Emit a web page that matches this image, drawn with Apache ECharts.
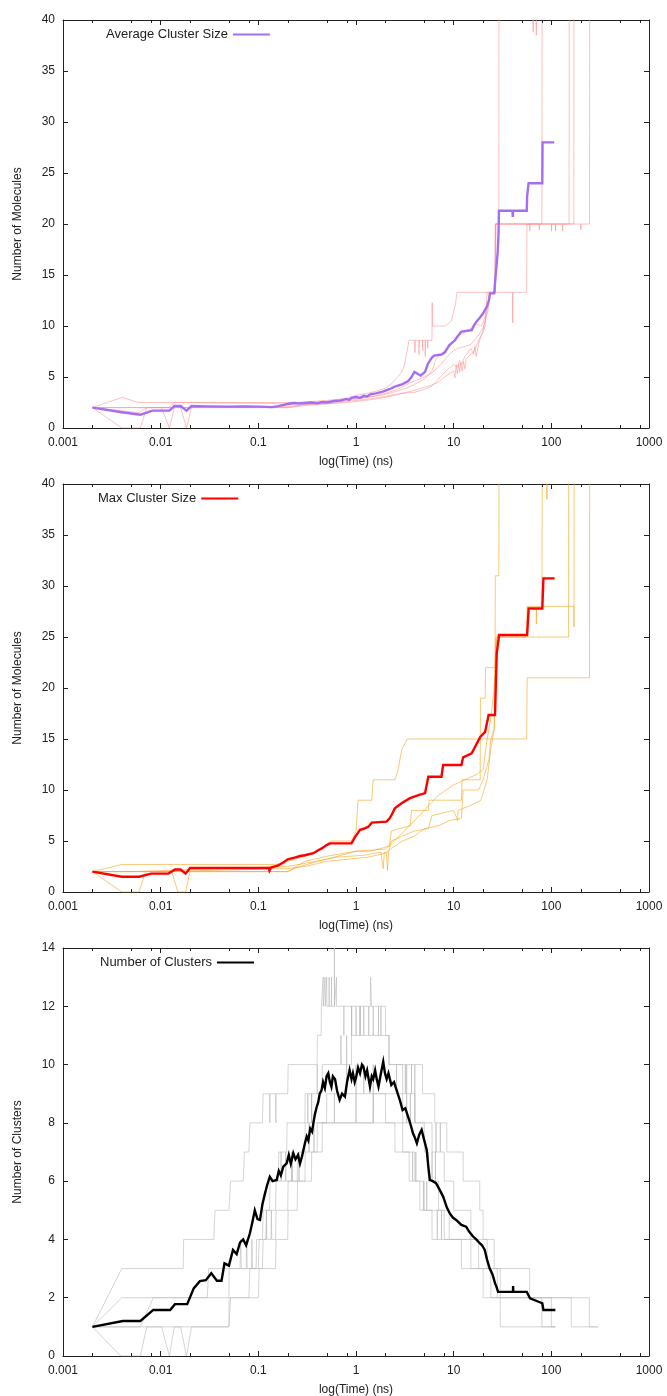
<!DOCTYPE html>
<html><head><meta charset="utf-8">
<script src="https://cdn.jsdelivr.net/npm/echarts@6/dist/echarts.min.js"></script>
<style>html,body{margin:0;padding:0;background:#fff}#c{width:667px;height:1396px}</style>
</head><body><div id="c"></div>
<script>
// ---------- tick labels ----------
const xTickLabels = ['0.001','0.01','0.1','1','10','100','1000'];
const minorTicks = [0.002,0.005,0.008,0.02,0.05,0.08,0.2,0.5,0.8,2,5,8,20,50,80,200,500,800];

// ---------- panel 1 : average cluster size ----------
const avgClusterSize = [[0.002,2.0],[0.004,1.55],[0.0062,1.3],[0.0072,1.5],[0.0082,1.7],[0.0123,1.7],[0.0138,2.15],[0.016,2.15],[0.0184,1.7],[0.0207,2.15],[0.03,2.12],[0.05,2.1],[0.07,2.12],[0.1,2.1],[0.138,2.05],[0.16,2.15],[0.2,2.35],[0.23,2.45],[0.26,2.4],[0.3,2.45],[0.35,2.5],[0.4,2.42],[0.45,2.55],[0.5,2.5],[0.6,2.65],[0.7,2.7],[0.8,2.85],[0.85,2.75],[0.9,2.95],[1.0,3.05],[1.1,2.95],[1.2,3.15],[1.3,3.1],[1.4,3.3],[1.6,3.4],[1.88,3.56],[2.2,3.8],[2.5,4.05],[3.0,4.3],[3.43,4.6],[3.7,5.0],[3.96,5.5],[4.3,5.3],[4.6,5.15],[5.1,5.5],[5.4,6.2],[5.7,6.6],[6.0,6.9],[6.3,7.1],[7.5,7.2],[8.1,7.4],[8.6,7.8],[9.0,8.1],[10.3,8.6],[11,9.0],[12,9.45],[15.3,9.6],[16,10.0],[17,10.4],[18.5,10.8],[19.9,11.2],[21.9,11.9],[23,12.5],[23.5,13.2],[26,13.2],[26.5,14.2],[27.5,16.0],[28.2,17.2],[28.8,19.0],[29.1,21.3],[40,21.3],[40.3,20.7],[40.6,21.3],[56,21.3],[56.5,22.7],[58,22.8],[58.5,24.0],[80.8,24.0],[81.3,28.0],[107,28.0]];
const sizeRun1 = [[0.002,2],[0.004,3],[0.006,2.5],[0.15,2.5],[0.2,2.5],[0.3,2.55],[0.5,2.7],[0.8,2.9],[1,3.2],[1.3,3.4],[1.6,3.6],[2,3.9],[2.3,4.3],[2.6,4.9],[2.9,5.4],[3.1,6.0],[3.3,7.3],[3.5,8.6],[4.0,8.6],[4.02,7.4],[4.04,8.6],[4.4,8.6],[4.42,7.2],[4.44,8.6],[4.8,8.6],[4.82,7.6],[4.84,8.6],[5.1,8.6],[5.12,7.0],[5.14,8.6],[5.4,8.6],[5.42,7.8],[5.44,8.6],[6.0,8.6],[6.03,12.3],[6.06,10.0],[8.2,10.0],[9.5,10.5],[10.5,12.3],[10.8,13.3],[40,13.3],[40.2,10.3],[40.4,13.3],[56,13.3],[56.3,20],[110,20],[110.5,19.3],[111,20],[170,20],[170.5,45]];
const sizeRun2 = [[0.002,2],[0.004,0],[0.0062,0],[0.0072,2],[0.2,2],[0.3,2.3],[0.5,2.5],[0.8,2.7],[1,2.8],[1.5,3.1],[2,3.3],[2.6,3.6],[3,3.8],[3.5,4.0],[4,4.3],[5,4.8],[5.5,5.2],[6,5.6],[6.5,6.6],[7,7.0],[8,7.6],[9,8.0],[10,8.5],[11,9.0],[12,9.2],[14,9.6],[16,9.9],[17,10.2],[19,10.0],[20,10.3],[21,11],[22,12],[23.5,13.3],[26.3,13.3],[26.6,20],[60,20],[60.3,19.3],[60.6,20],[75,20],[75.3,19.4],[75.6,20],[100,20],[100.4,19.3],[100.8,20],[152,20],[152.5,45]];
const sizeRun3 = [[0.002,2],[0.0102,2],[0.0123,0],[0.0138,2],[0.2,2.1],[0.3,2.3],[0.5,2.4],[0.8,2.6],[1,2.7],[1.5,2.9],[2,3.1],[2.5,3.3],[3,3.4],[4,3.7],[5,4.0],[6,4.2],[7,4.5],[8,5.0],[9,5.3],[10,5.6],[10.3,4.9],[10.6,6.2],[10.9,5.3],[11.2,6.3],[11.5,5.5],[11.8,6.4],[12.2,5.6],[12.6,6.5],[13,5.8],[13.5,6.8],[14,6.8],[16,7.5],[17,8.0],[18,8.6],[20,9.4],[21,10],[22,13.3],[26.7,13.3],[26.9,20],[29,20],[29.1,45],[65,45],[65.2,38.8],[65.4,45],[70,45],[70.2,38.5],[70.4,45],[100,45]];
const sizeRun4 = [[0.002,2],[0.006,1.5],[0.0072,2],[0.016,2],[0.0184,0],[0.0207,2],[0.2,2],[0.3,2.2],[0.5,2.35],[0.8,2.5],[1,2.6],[1.5,2.8],[2,3.0],[2.5,3.2],[3,3.4],[4,3.5],[5,3.8],[6,4.1],[7,4.8],[8,5.4],[9,5.9],[10,6.2],[11,6.0],[11.5,6.6],[12,6.2],[13,7.0],[14,7.4],[15,7.8],[16,7.2],[16.5,8.0],[17,7.0],[18,8.2],[19,9.0],[20,9.6],[21,10.5],[22.5,11.5],[23.5,13.3],[26.6,13.3],[27,20],[80,20],[80.5,45]];
const sizeRun5 = [[0.002,2],[0.012,2],[0.014,2.5],[0.15,2.4],[0.2,2.3],[0.3,2.5],[0.5,2.6],[0.8,2.8],[1,2.9],[1.5,3.1],[2,3.4],[2.5,3.7],[3,4.0],[3.5,4.4],[4,4.6],[5,5.0],[6,5.4],[7,6.0],[8,6.6],[9,7.2],[10,7.6],[11,7.8],[13,8.0],[15,8.2],[17,8.8],[19,9.5],[20,9.8],[21,10.5],[22,11.5],[23,12.6],[24,13.3],[26.6,13.3],[27,20],[130,20],[130.5,19.3],[131,20],[200,20],[200.5,19.4],[201,20],[246,20],[247,45]];

// ---------- panel 2 : max cluster size ----------
const maxClusterSize = [[0.002,2.0],[0.004,1.5],[0.006,1.5],[0.008,1.8],[0.012,1.8],[0.014,2.2],[0.016,2.2],[0.018,1.8],[0.02,2.35],[0.05,2.35],[0.1,2.35],[0.128,2.35],[0.13,2.1],[0.135,2.4],[0.16,2.6],[0.18,2.9],[0.2,3.2],[0.24,3.4],[0.267,3.53],[0.3,3.6],[0.366,3.8],[0.41,4.1],[0.45,4.3],[0.5,4.6],[0.54,4.77],[0.9,4.77],[0.98,5.4],[1.1,6.1],[1.2,6.2],[1.34,6.4],[1.45,6.8],[2.05,6.9],[2.2,7.2],[2.3,7.5],[2.5,8.2],[2.93,8.7],[3.57,9.2],[4.37,9.5],[5.1,9.7],[5.5,11.3],[7.5,11.3],[7.8,12.45],[12,12.45],[12.5,13.2],[15.3,13.6],[18.7,15.2],[21,15.7],[22.8,17.35],[26.5,17.35],[27.6,23.4],[29.2,25.2],[56.5,25.2],[58.6,27.8],[80.8,27.8],[83,30.75],[108,30.75]];
const maxRun1 = [[0.002,2],[0.004,2.7],[0.15,2.7],[0.2,3],[0.3,3.5],[0.45,4.2],[0.55,5],[0.9,5],[1.0,6.0],[1.05,9],[1.45,9],[1.5,11],[2.5,11],[2.7,12],[2.93,13.9],[3.35,15],[56,15],[56.5,21],[246,21],[247,45]];
const maxRun2 = [[0.002,2],[0.004,0],[0.006,0],[0.007,2],[0.2,2],[0.3,3],[0.5,3.5],[1,4],[1.4,4],[2.2,4.5],[2.3,6],[3.6,6.5],[3.7,8],[5.5,8],[5.6,9],[12,9],[12.2,11],[18.7,11],[18.8,19],[21,19],[21.2,22],[26.5,22],[26.7,31],[29,31],[29.2,45]];
const maxRun3 = [[0.002,2],[0.006,2],[0.013,2],[0.015,0],[0.018,0],[0.02,2],[0.2,2],[0.25,2.4],[0.4,3],[0.6,3.4],[1.2,3.6],[1.8,3.9],[1.9,2.3],[1.95,3.9],[2.05,3.9],[2.1,2.1],[2.15,3.9],[2.3,5],[3,5.5],[4,6],[5.5,6.2],[6,7.5],[10,8],[11,7],[11.1,8],[15,8.5],[19,9],[22,11],[24,14],[26,16],[27,24],[28,25],[150,25],[150.5,45]];
const maxRun4 = [[0.002,2],[0.01,2],[0.2,2.3],[0.3,2.5],[0.5,3],[0.8,3.2],[1.3,3.4],[2,3.8],[2.5,4.5],[3,5],[4,5.5],[5,6.2],[7,6.5],[9,7],[12,7.2],[12.5,10],[18,10],[20,11],[23,13],[24,15],[26,16],[27,25],[56,25],[56.5,28],[170,28],[170.5,26],[171,28],[171.5,45]];
const maxRun5 = [[0.002,2],[0.005,2],[0.2,2.5],[0.5,3.2],[1,4],[2,4.2],[3,5.8],[5,8],[7,9.5],[10,10.5],[13,11],[17,11.5],[20,12],[22,15],[24,17],[26,20],[27,24],[28,25.2],[56,25.2],[58,27.8],[70,27.8],[70.3,26.3],[70.6,27.8],[80,27.8],[81,45],[90,45],[90.2,38.5],[90.4,45],[100,45]];

// ---------- panel 3 : number of clusters ----------
const numClusters = [[0.002,1.0],[0.0041,1.2],[0.0062,1.2],[0.0084,1.58],[0.0125,1.58],[0.014,1.78],[0.0187,1.78],[0.0218,2.32],[0.0252,2.57],[0.029,2.6],[0.033,2.84],[0.0377,2.58],[0.042,2.58],[0.045,3.18],[0.05,3.1],[0.055,3.64],[0.06,3.5],[0.065,3.9],[0.07,4.0],[0.075,3.8],[0.082,4.21],[0.087,4.6],[0.092,5.0],[0.098,4.7],[0.104,4.67],[0.11,5.2],[0.117,5.58],[0.124,5.9],[0.131,6.15],[0.14,6.0],[0.154,6.04],[0.162,6.35],[0.17,6.2],[0.18,6.5],[0.195,6.61],[0.205,6.9],[0.215,6.6],[0.228,6.96],[0.24,6.75],[0.255,6.9],[0.267,6.6],[0.28,6.85],[0.29,6.8],[0.3,7.3],[0.313,7.53],[0.325,7.4],[0.34,7.8],[0.355,7.7],[0.366,7.99],[0.38,8.3],[0.396,8.55],[0.41,8.7],[0.425,9.0],[0.445,9.13],[0.46,9.4],[0.48,9.2],[0.5,9.6],[0.52,9.7],[0.54,9.4],[0.56,9.24],[0.58,9.6],[0.61,9.5],[0.64,9.1],[0.68,8.79],[0.72,9.0],[0.77,8.9],[0.81,9.4],[0.86,9.81],[0.9,9.5],[0.93,9.7],[0.97,9.4],[1.0,9.55],[1.05,9.9],[1.1,9.7],[1.15,10.0],[1.19,9.93],[1.25,9.6],[1.3,9.8],[1.39,9.24],[1.45,9.6],[1.5,9.5],[1.57,9.8],[1.63,9.5],[1.7,9.24],[1.8,9.7],[1.9,10.1],[1.98,9.7],[2.06,9.5],[2.15,9.7],[2.3,9.3],[2.45,9.4],[2.6,9.13],[2.8,8.8],[3.0,8.44],[3.2,8.5],[3.5,8.1],[3.65,7.9],[3.83,7.64],[4.0,7.5],[4.2,7.3],[4.45,7.6],[4.7,7.76],[5.0,7.4],[5.3,7.07],[5.5,6.5],[5.7,6.04],[6.1,6.0],[6.6,5.93],[7.2,5.7],[7.8,5.47],[8.5,5.1],[9.1,4.9],[9.8,4.75],[10.6,4.67],[12,4.5],[13.4,4.44],[14.5,4.25],[15.8,4.1],[17,4.0],[18.5,3.87],[19.5,3.8],[20.8,3.64],[22,3.3],[23.4,3.0],[25,2.8],[26.5,2.5],[27.4,2.38],[28.5,2.2],[40.5,2.2],[40.6,2.4],[40.8,2.2],[56,2.2],[58,2.1],[60.5,1.98],[80.8,1.81],[83,1.58],[110,1.58]];
const numRun1 = [[0.002,1],[0.004,3],[0.017,3],[0.0172,4],[0.035,4],[0.036,5],[0.05,5],[0.052,6],[0.07,6],[0.072,7],[0.08,7],[0.082,8],[0.11,8],[0.112,9],[0.13,9],[0.131,8],[0.132,9],[0.15,9],[0.151,8],[0.152,9],[0.2,9],[0.202,10],[0.4,10],[0.402,11],[0.44,11],[0.442,12],[0.46,12],[0.461,13],[0.462,12],[0.48,12],[0.481,13],[0.483,13],[0.484,12],[0.5,12],[0.501,13],[0.503,12],[0.53,12],[0.531,13],[0.533,12],[0.56,12],[0.561,13],[0.563,12],[0.6,12],[0.601,14],[0.603,12],[0.63,12],[0.631,13],[0.633,12],[0.75,12],[0.751,11],[0.753,12],[0.9,12],[0.901,11],[0.903,12],[1.1,12],[1.101,11],[1.103,12],[1.4,12],[1.41,13],[1.43,13],[1.44,12],[1.7,12],[1.701,11],[1.703,12],[2.0,12],[2.01,11],[2.15,11],[2.16,10],[2.6,10],[2.601,9],[2.603,10],[3.2,10],[3.201,9],[3.203,10],[4.0,10],[4.001,9],[4.003,10],[4.8,10],[4.81,9],[6.4,9],[6.41,8],[8.5,8],[8.51,7],[12.5,7],[12.51,6],[18.5,6],[18.51,5],[20,5],[20.01,4],[26,4],[26.01,3],[60,3],[60.01,2],[160,2],[160.01,1],[300,1]];
const numRun2 = [[0.002,1],[0.004,2],[0.03,2],[0.031,3],[0.065,3],[0.066,4],[0.067,3],[0.075,3],[0.076,4],[0.077,3],[0.085,3],[0.086,4],[0.087,3],[0.095,3],[0.096,4],[0.11,4],[0.112,5],[0.13,5],[0.132,6],[0.16,6],[0.162,7],[0.195,7],[0.197,8],[0.3,8],[0.302,9],[0.32,9],[0.321,8],[0.322,9],[0.35,9],[0.351,8],[0.352,9],[0.4,9],[0.401,10],[0.402,9],[0.45,9],[0.452,10],[0.7,10],[0.701,11],[0.703,10],[0.8,10],[0.801,11],[0.803,11],[0.804,10],[0.9,10],[0.901,12],[0.903,12],[0.904,11],[1.0,11],[1.001,12],[1.003,11],[1.1,11],[1.101,12],[1.103,11],[1.2,11],[1.201,12],[1.203,11],[1.35,11],[1.351,12],[1.353,11],[1.5,11],[1.501,12],[1.503,11],[1.8,11],[1.801,12],[1.803,11],[2.2,11],[2.201,10],[3.0,10],[3.01,9],[3.3,9],[3.301,10],[3.302,9],[3.7,9],[3.701,10],[3.702,9],[4,9],[4.01,8],[6,8],[6.01,7],[6.6,7],[6.601,8],[6.602,7],[7.3,7],[7.301,8],[7.302,7],[8,7],[8.01,6],[10,6],[10.01,5],[15,5],[15.01,4],[22,4],[22.01,3],[28,3],[28.01,2],[245,2],[245.01,1],[300,1]];
const numRun3 = [[0.002,1],[0.0062,1],[0.0084,2],[0.05,2],[0.0502,3],[0.1,3],[0.102,4],[0.12,4],[0.122,5],[0.15,5],[0.152,6],[0.17,6],[0.171,7],[0.172,6],[0.19,6],[0.191,7],[0.192,6],[0.22,6],[0.221,7],[0.222,6],[0.25,6],[0.252,7],[0.3,7],[0.302,8],[0.35,8],[0.351,9],[0.353,8],[0.5,8],[0.502,9],[0.8,9],[0.801,10],[0.803,9],[1.0,9],[1.001,10],[1.003,9],[1.2,9],[1.201,10],[1.203,9],[1.5,9],[1.501,10],[1.503,9],[3,9],[3.01,8],[3.3,8],[3.301,9],[3.303,8],[3.6,8],[3.601,9],[3.603,8],[4.0,8],[4.001,9],[4.003,8],[5,8],[5.01,7],[5.5,7],[5.51,6],[6,6],[6.01,7],[6.02,6],[6.5,6],[6.51,7],[6.52,6],[7,6],[7.01,5],[9,5],[9.01,4],[18,4],[18.01,3],[24,3],[24.01,2],[100,2],[100.01,1],[110,1]];
const numRun4 = [[0.002,1],[0.0039,0],[0.0062,0],[0.0072,1],[0.05,1],[0.0502,2],[0.08,2],[0.082,3],[0.11,3],[0.112,4],[0.12,4],[0.121,5],[0.122,4],[0.135,4],[0.136,5],[0.137,4],[0.15,4],[0.152,5],[0.2,5],[0.202,6],[0.22,6],[0.221,7],[0.222,6],[0.26,6],[0.261,7],[0.262,6],[0.3,6],[0.302,7],[0.33,7],[0.331,8],[0.332,7],[0.37,7],[0.371,8],[0.372,7],[0.4,7],[0.402,8],[0.6,8],[0.601,9],[0.603,8],[1.0,8],[1.001,9],[1.003,8],[1.5,8],[1.501,9],[1.503,8],[2.5,8],[2.51,7],[4,7],[4.01,6],[5,6],[5.01,5],[8,5],[8.01,4],[15,4],[15.01,3],[20,3],[20.01,2],[30,2],[30.01,1],[110,1]];
const numRun5 = [[0.002,1],[0.0102,1],[0.0123,0],[0.0138,1],[0.016,1],[0.0184,0],[0.0207,1],[0.05,1],[0.052,2],[0.1,2],[0.102,3],[0.15,3],[0.152,4],[0.2,4],[0.202,5],[0.25,5],[0.252,6],[0.35,6],[0.352,7],[0.45,7],[0.452,8],[1.5,8],[1.51,9],[2,9],[2.01,8],[3,8],[3.01,7],[3.5,7],[3.51,6],[3.8,6],[3.801,7],[3.802,6],[4.1,6],[4.101,7],[4.102,6],[4.5,6],[4.51,5],[4.9,5],[4.901,6],[4.902,5],[5.3,5],[5.301,6],[5.302,5],[6,5],[6.01,4],[6.8,4],[6.801,5],[6.802,4],[7.5,4],[7.501,5],[7.502,4],[12,4],[12.01,3],[30,3],[30.01,2],[80,2],[80.01,1],[110,1]];

// ---------- build chart ----------
const FONT = '"Liberation Sans", Arial, Helvetica, sans-serif';
const AX = '#222';
const panels = [
  {top:20, yMax:40, yInt:5, yName:'Number of Molecules', avgName:'Average Cluster Size', avg:avgClusterSize, avgColor:'#a56ef2',
   runs:[sizeRun1,sizeRun2,sizeRun3,sizeRun4,sizeRun5], runColor:'rgba(255,140,140,0.55)', legLeft:106},
  {top:484, yMax:40, yInt:5, yName:'Number of Molecules', avgName:'Max Cluster Size', avg:maxClusterSize, avgColor:'#ff0000',
   runs:[maxRun1,maxRun2,maxRun3,maxRun4,maxRun5], runColor:'rgba(245,165,30,0.6)', legLeft:98},
  {top:948, yMax:14, yInt:2, yName:'Number of Clusters', avgName:'Number of Clusters', avg:numClusters, avgColor:'#000000',
   runs:[numRun1,numRun2,numRun3,numRun4,numRun5], runColor:'rgba(185,185,185,0.6)', legLeft:100}
];
const grid=[], xAxis=[], yAxis=[], series=[], legend=[];
panels.forEach((p,i)=>{
  grid.push({left:63, right:18, top:p.top, height:408, containLabel:false, outerBoundsMode:'none'});
  const xBase = {type:'log', logBase:10, min:0.001, max:1000, splitNumber:6, gridIndex:i,
    axisLine:{show:true, onZero:false, lineStyle:{color:AX, width:1}},
    axisTick:{show:true, inside:true, length:5, lineStyle:{color:AX}},
    splitLine:{show:false}, minorTick:{show:false}, minorSplitLine:{show:false}};
  xAxis.push(Object.assign({}, xBase, {position:'bottom',
    name:'log(Time) (ns)', nameLocation:'middle', nameGap:28,
    nameTextStyle:{fontFamily:FONT, fontSize:12, color:AX},
    axisLabel:{show:true, margin:9, fontFamily:FONT, fontSize:12, color:AX,
      formatter:v=>xTickLabels[Math.round(Math.log10(v))+3]}}));
  xAxis.push(Object.assign({}, xBase, {position:'top', axisLabel:{show:false}}));
  const yBase = {type:'value', min:0, max:p.yMax, interval:p.yInt, gridIndex:i,
    axisLine:{show:true, onZero:false, lineStyle:{color:AX, width:1}},
    axisTick:{show:true, inside:true, length:5, lineStyle:{color:AX}},
    splitLine:{show:false}};
  yAxis.push(Object.assign({}, yBase, {position:'left',
    name:p.yName, nameLocation:'middle', nameGap:39, nameRotate:90,
    nameTextStyle:{fontFamily:FONT, fontSize:12, color:AX},
    axisLabel:{show:true, margin:8, fontFamily:FONT, fontSize:12, color:AX}}));
  yAxis.push(Object.assign({}, yBase, {position:'right', axisLabel:{show:false}}));
  p.runs.forEach((r,k)=>{
    series.push({type:'line', name:p.avgName+' run '+(k+1), xAxisIndex:2*i, yAxisIndex:2*i,
      data:r, showSymbol:false, symbol:'none', clip:true, silent:true, z:2,
      lineStyle:{color:p.runColor, width:1}, itemStyle:{color:p.runColor}});
  });
  series.push({type:'line', name:p.avgName, xAxisIndex:2*i, yAxisIndex:2*i,
    data:p.avg, showSymbol:false, symbol:'none', clip:true, silent:true, z:3,
    lineStyle:{color:p.avgColor, width:2.4, join:'miter'}, itemStyle:{color:p.avgColor}});
  series.push({type:'custom', xAxisIndex:2*i, yAxisIndex:2*i, silent:true, z:5, clip:false,
    data:minorTicks.map(v=>[v,0]), encode:{x:0,y:1},
    renderItem:function(params, api){
      const x = Math.round(api.coord([api.value(0), 0])[0]) + 0.5;
      const cs = params.coordSys;
      const b = cs.y + cs.height, t = cs.y;
      return {type:'group', children:[
        {type:'line', shape:{x1:x,y1:b,x2:x,y2:b-3}, style:{stroke:AX, lineWidth:1}},
        {type:'line', shape:{x1:x,y1:t,x2:x,y2:t+3}, style:{stroke:AX, lineWidth:1}}]};
    }});
  legend.push({data:[{name:p.avgName, icon:'rect'}], left:p.legLeft, top:p.top+8, padding:0,
    orient:'horizontal', align:'right', itemWidth:37, itemHeight:2, selectedMode:false,
    textStyle:{fontFamily:FONT, fontSize:13, color:AX}});
});
const chart = echarts.init(document.getElementById('c'), null, {renderer:'canvas'});
chart.setOption({animation:false, backgroundColor:'#fff', grid, xAxis, yAxis, series, legend, tooltip:{show:false}});
</script></body></html>
